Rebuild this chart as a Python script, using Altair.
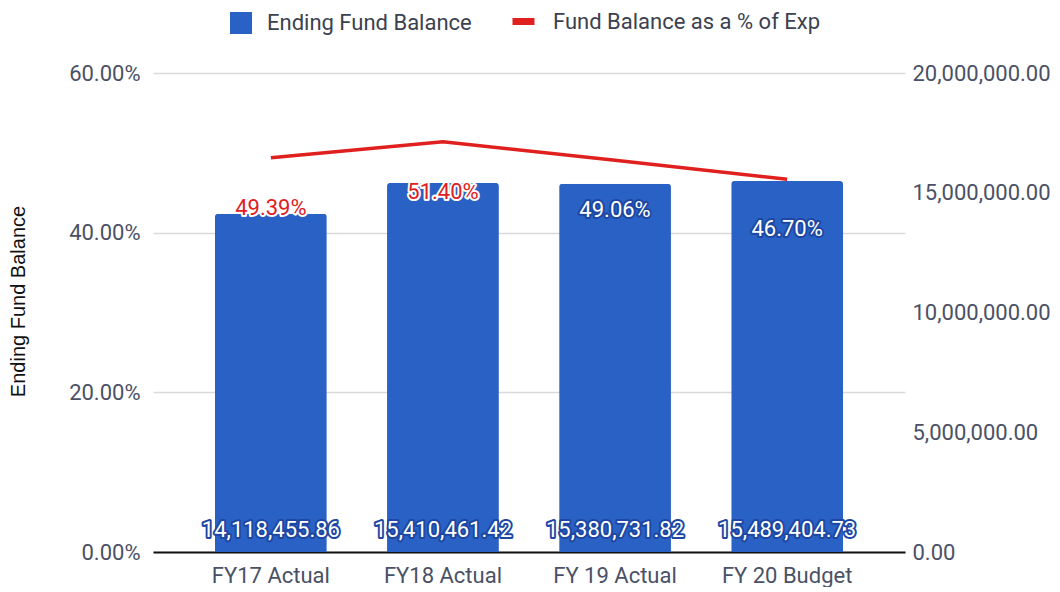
import altair as alt
import pandas as pd

categories = ["FY17 Actual", "FY18 Actual", "FY 19 Actual", "FY 20 Budget"]
balances = [14118455.86, 15410461.42, 15380731.82, 15489404.73]
pcts = [0.4939, 0.5140, 0.4906, 0.4670]
bar_series = "Ending Fund Balance"
line_series = "Fund Balance as a % of Exp"

df = pd.DataFrame({"cat": categories, "bal": balances, "pct": pcts})

BLUE = "#2a61c4"
HALO_BLUE = "#1d47a3"
RED = "#e0201f"
LABEL = "#4a5166"
LEG = "#3c4150"
FONT = "Roboto"
FS = 22

x_enc = alt.X(
    "cat:N", sort=categories,
    scale=alt.Scale(paddingInner=0.35, paddingOuter=0.36),
    axis=alt.Axis(title=None, labelAngle=0, labelFontSize=FS, labelColor=LABEL,
                  labelPadding=13, ticks=False, domain=True, domainColor="#111111",
                  domainWidth=2, grid=False, labelFont=FONT),
)

right_scale = alt.Scale(domain=[0, 20000000])
right_axis = alt.Axis(orient="right", title=None, values=[0, 5000000, 10000000, 15000000, 20000000],
                      format=",.2f", labelFontSize=FS, labelColor=LABEL, labelPadding=7,
                      ticks=False, domain=False, grid=False, labelFont=FONT)

left_scale = alt.Scale(domain=[0, 0.6])
left_axis = alt.Axis(orient="left", title="Ending Fund Balance", values=[0, 0.2, 0.4, 0.6],
                     format=".2%", labelFontSize=FS, labelColor=LABEL, labelPadding=13,
                     ticks=False, domain=False, grid=True, gridColor="#d9d9d9", gridWidth=1.5,
                     titleFontSize=20, titleFontWeight="normal", titleColor="#111111",
                     titlePadding=40, labelFont=FONT, titleFont="Liberation Sans", titleY=228)

base = alt.Chart(df).transform_calculate(s1=f"'{bar_series}'", s2=f"'{line_series}'")

bars = base.mark_bar(cornerRadiusTopLeft=3, cornerRadiusTopRight=3).encode(
    x=x_enc,
    y=alt.Y("bal:Q", scale=right_scale, axis=right_axis),
    fill=alt.Fill("s1:N", scale=alt.Scale(domain=[bar_series], range=[BLUE]),
                  legend=alt.Legend(title=None, orient="none", legendX=77, legendY=-61,
                                    symbolType="square", symbolSize=484, labelFontSize=FS,
                                    labelColor=LEG, labelFont=FONT, padding=0, labelLimit=0,
                                    labelOffset=15, symbolStrokeWidth=0)),
)

bar_halo = base.mark_text(fontSize=FS, font=FONT, dy=-22, baseline="middle",
                          stroke=HALO_BLUE, strokeWidth=4, strokeJoin="round", fill=HALO_BLUE).encode(
    x=x_enc,
    y=alt.YDatum(0, scale=right_scale, axis=right_axis),
    text=alt.Text("bal:Q", format=",.2f"),
)
bar_text = base.mark_text(fontSize=FS, font=FONT, dy=-22, baseline="middle", fill="white").encode(
    x=x_enc,
    y=alt.YDatum(0, scale=right_scale, axis=right_axis),
    text=alt.Text("bal:Q", format=",.2f"),
)

bar_layer = alt.layer(bars, bar_halo, bar_text)

line = base.mark_line(strokeWidth=3.5).encode(
    x=x_enc,
    y=alt.Y("pct:Q", scale=left_scale, axis=left_axis),
    stroke=alt.Stroke("s2:N", scale=alt.Scale(domain=[line_series], range=[RED]),
                      legend=alt.Legend(title=None, orient="none", legendX=356, legendY=-66,
                                        symbolType="stroke", symbolSize=484, symbolStrokeWidth=7,
                                        labelFontSize=FS, labelColor=LEG, labelFont=FONT,
                                        padding=0, labelOffset=15, labelLimit=0)),
)

on_bar = "indexof(['FY 19 Actual', 'FY 20 Budget'], datum.cat) >= 0"

pct_halo = base.mark_text(fontSize=FS, font=FONT, dy=50, baseline="middle",
                          strokeWidth=4, strokeJoin="round").encode(
    x=x_enc,
    y=alt.Y("pct:Q", scale=left_scale, axis=left_axis),
    text=alt.Text("pct:Q", format=".2%"),
    fill=alt.condition(on_bar, alt.value(HALO_BLUE), alt.value("white")),
    stroke=alt.condition(on_bar, alt.value(HALO_BLUE), alt.value("white")),
)
pct_text = base.mark_text(fontSize=FS, font=FONT, dy=50, baseline="middle").encode(
    x=x_enc,
    y=alt.Y("pct:Q", scale=left_scale, axis=left_axis),
    text=alt.Text("pct:Q", format=".2%"),
    fill=alt.condition(on_bar, alt.value("white"), alt.value(RED)),
)

line_layer = alt.layer(line, pct_halo, pct_text)

chart = alt.layer(bar_layer, line_layer).resolve_scale(
    y="independent", fill="independent", stroke="independent"
).properties(
    width=752, height=479,
    background="white",
    autosize=alt.AutoSizeParams(type="none"),
    padding={"left": 145, "top": 65, "right": 147, "bottom": 35},
).configure_view(stroke=None)

chart.save("out.html", embed_options={"renderer": "svg", "actions": False})
